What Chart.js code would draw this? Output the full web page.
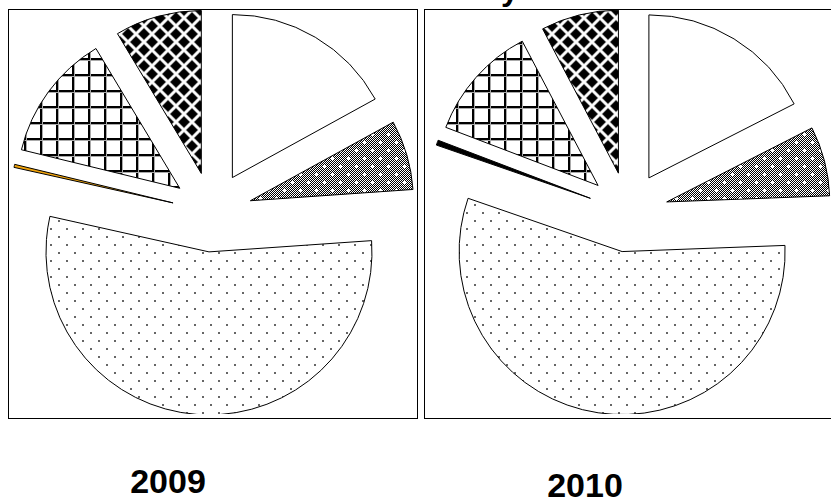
<!DOCTYPE html>
<html>
<head>
<meta charset="utf-8">
<script src="https://cdn.jsdelivr.net/npm/chart.js@4.4.0/dist/chart.umd.min.js"></script>
<style>
  html, body { margin: 0; padding: 0; background: #fff; overflow: hidden; }
  body { width: 831px; height: 501px; position: relative; font-family: "Liberation Sans", Arial, sans-serif; }
  .panel { position: absolute; top: 9px; width: 410px; height: 410px; border: 1px solid #000; box-sizing: border-box; overflow: hidden; }
  .plot { position: absolute; left: -1px; top: 0px; width: 408px; height: 404px; }
  .year { position: absolute; font-weight: bold; font-size: 34px; line-height: 34px; transform: translateX(-50%); color: #000; }
  .title { position: absolute; left: 501px; top: -27px; font-weight: bold; font-size: 32px; line-height: 32px; }
</style>
</head>
<body>
<div class="title">y</div>
<div class="panel" style="left:8px"><div class="plot"><canvas id="pie2009"></canvas></div></div>
<div class="panel" style="left:424px; width:420px"><div class="plot"><canvas id="pie2010"></canvas></div></div>
<div class="year" style="left:168px; top:464px">2009</div>
<div class="year" style="left:585px; top:468px">2010</div>
<script>
const categories = ['A', 'B', 'C', 'D', 'E', 'F'];
const values2009 = [17.0, 6.9, 54.6, 0.3, 12.6, 8.6];
const values2010 = [17.5, 6.9, 55.9, 0.5, 11.5, 7.7];

const RADIUS = 163;
const EXPLODE = 40; // px each slice is pushed out along its middle

function tile(w, h, paint) {
    const c = document.createElement('canvas');
    c.width = w; c.height = h;
    const g = c.getContext('2d');
    g.fillStyle = '#fff';
    g.fillRect(0, 0, w, h);
    paint(g);
    return g.createPattern(c, 'repeat');
}

const dots = tile(16, 16, g => {
    g.fillStyle = '#666';
    g.fillRect(2, 2, 2, 2);
    g.fillRect(10, 10, 2, 2);
});

const greyCross = tile(16, 16, g => {
    g.fillStyle = '#000';
    for (let y = 0; y < 16; y++)
        for (let x = 0; x < 16; x++)
            if ((x + y) % 2) g.fillRect(x, y, 1, 1);
    g.fillStyle = '#fff';
    [[4, 4], [12, 12]].forEach(([x, y]) => {
        g.fillRect(x - 1, y, 3, 1);
        g.fillRect(x, y - 1, 1, 3);
    });
});

const diamond = (g, x, y, r) => {
    g.beginPath();
    g.moveTo(x, y - r);
    g.lineTo(x + r, y);
    g.lineTo(x, y + r);
    g.lineTo(x - r, y);
    g.closePath();
    g.fill();
};

const diamonds = tile(16, 16, g => {
    const centres = [[0, 0], [16, 0], [0, 16], [16, 16], [8, 8]];
    g.fillStyle = '#999';
    centres.forEach(([x, y]) => diamond(g, x, y, 6.5));
    g.fillStyle = '#000';
    centres.forEach(([x, y]) => diamond(g, x, y, 5.5));
});

const grid = tile(16, 16, g => {
    g.fillStyle = '#000';
    g.fillRect(0, 0, 16, 2);
    g.fillRect(0, 0, 2, 16);
    g.fillStyle = '#aaa';
    g.fillRect(0, 2, 16, 1);
    g.fillRect(2, 0, 1, 16);
});

// move every arc out along its bisector (plain translation, no resizing like dataset.offset does)
const explode = {
    id: 'explode',
    afterDatasetUpdate(chart, args) {
        args.meta.data.forEach(arc => {
            const mid = (arc.startAngle + arc.endAngle) / 2;
            arc.x += Math.cos(mid) * EXPLODE;
            arc.y += Math.sin(mid) * EXPLODE;
        });
    }
};

const makePie = (id, values, thinColor) => new Chart(document.getElementById(id), {
    type: 'pie',
    data: {
        labels: categories,
        datasets: [{
            data: values,
            backgroundColor: ['#fff', greyCross, dots, thinColor, grid, diamonds],
            borderColor: '#000',
            borderWidth: 1,
            borderJoinStyle: 'miter'
        }]
    },
    options: {
        responsive: true,
        maintainAspectRatio: false,
        animation: false,
        radius: RADIUS,
        layout: { padding: 0 },
        plugins: {
            legend: { display: false },
            tooltip: { enabled: false }
        }
    },
    plugins: [explode]
});

makePie('pie2009', values2009, '#f0a30a');
makePie('pie2010', values2010, '#000');
</script>
</body>
</html>
